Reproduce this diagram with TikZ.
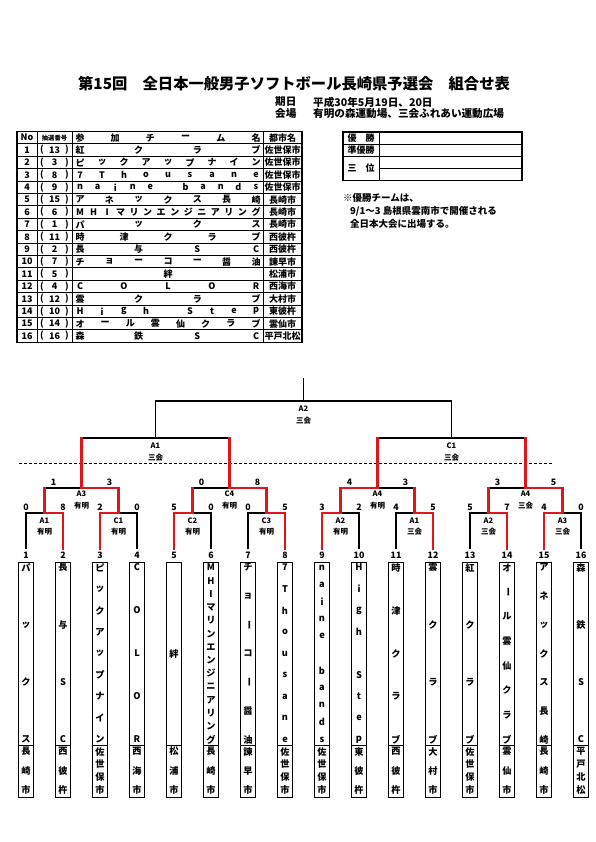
\documentclass[tikz,border=0pt]{standalone}
\usepackage{fontspec}
\usepackage{graphicx}
\setmainfont{Noto Sans CJK JP}
\definecolor{winred}{RGB}{222,22,28}
\newcommand\vb{\rotatebox[origin=c]{-90}{ー}}
\tikzset{
  blk/.style={line width=1.1pt, black},
  win/.style={line width=2.8pt, winred, line cap=rect},
  tline/.style={line width=0.9pt, black},
  touter/.style={line width=1.5pt, black},
  tt/.style={font=\fontsize{9}{9}\selectfont\bfseries, inner sep=0pt},
  lbl/.style={font=\fontsize{7.5}{8}\selectfont\bfseries, inner sep=0pt},
  scr/.style={font=\fontsize{8.8}{9}\selectfont\bfseries, inner sep=0pt},
  vch/.style={font=\fontsize{9.2}{9}\selectfont\bfseries, inner sep=0pt},
  tbox/.style={draw, line width=1.1pt, minimum width=14.5pt, inner sep=0pt, anchor=north},
  note/.style={font=\fontsize{9.5}{10}\selectfont\bfseries, inner sep=0pt, anchor=west},
  dt/.style={font=\fontsize{10.6}{11}\selectfont\bfseries, inner sep=0pt, anchor=west},
}
% table row: #1 row no, #2 draw no, #3 chars, #4 city
\newcommand\trow[4]{%
  \pgfmathsetmacro\ry{137.7+12.4*#1}
  \node[tt] (no#1) at (27,\ry) {#1};
  \node[tt] (lp#1) at (42,\ry) {(};
  \node[tt] (dn#1) at (54.5,\ry) {#2};
  \node[tt] (rp#1) at (67,\ry) {)};
  \foreach \ch [count=\k] in {#3} {\xdef\cnt{\k}}
  \foreach \ch [count=\k] in {#3} {%
    \ifnum\cnt=1 \def\xx{168}\else\pgfmathsetmacro\xx{80+(\k-1)*176/(\cnt-1)}\fi
    \node[tt] (tn#1-\k) at (\xx,\ry) {\ch};
  }
  \node[tt] (ct#1) at (282.5,\ry) {#4};
}
% team box: #1 index, #2 chars, #3 city chars
\newcommand\team[3]{%
  \pgfmathsetmacro\tx{26+37*(#1-1)}
  \node[scr] (num#1) at (\tx,555) {#1};
  \node[tbox, minimum height=183pt] (tb#1) at (\tx,562) {};
  \node[tbox, minimum height=52pt] (cb#1) at (\tx,745) {};
  \foreach \ch [count=\k] in {#2} {\xdef\cnt{\k}}
  \foreach \ch [count=\k] in {#2} {%
    \ifnum\cnt=1 \def\yy{653.5}\else\pgfmathsetmacro\yy{567.5+(\k-1)*172/(\cnt-1)}\fi
    \node[vch] (tc#1-\k) at (\tx,\yy) {\ch};
  }
  \foreach \ch [count=\k] in {#3} {\xdef\cnt{\k}}
  \foreach \ch [count=\k] in {#3} {%
    \pgfmathsetmacro\yy{751.5+(\k-1)*38.5/(\cnt-1)}
    \node[vch] (cc#1-\k) at (\tx,\yy) {\ch};
  }
}
\begin{document}
\begin{tikzpicture}[x=1pt,y=-1pt]
\useasboundingbox[fill=white] (0,0) rectangle (595,842);

% ---------- title ----------
\node[font=\fontsize{15.3}{16}\selectfont\bfseries, inner sep=0pt] (title) at (294,84) {第15回　全日本一般男子ソフトボール長崎県予選会　組合せ表};
\node[dt] (d1) at (275,102) {期日};
\node[dt] (d1v) at (313,102) {平成30年5月19日、20日};
\node[dt] (d2) at (275,113.5) {会場};
\node[dt] (d2v) at (313,113.5) {有明の森運動場、三会ふれあい運動広場};

% ---------- team table ----------
\foreach \r in {1,...,16} {\draw[tline] (17,{131.5+12.4*\r}) -- (302,{131.5+12.4*\r});}
\foreach \cx in {37,72,263} {\draw[tline] (\cx,131.5) -- (\cx,342.3);}
\draw[touter] (17,131.5) rectangle (302,342.3);
\node[tt] (hno) at (27,137.7) {No};
\node[font=\fontsize{6.3}{7}\selectfont\bfseries, inner sep=0pt] (hdn) at (54.5,137.7) {抽選番号};
\foreach \ch [count=\k] in {参,加,チ,ー,ム,名} {
  \pgfmathsetmacro\xx{80+(\k-1)*176/5}
  \node[tt] (hn\k) at (\xx,137.7) {\ch};
}
\node[tt] (hct) at (282.5,137.7) {都市名};
\trow{1}{13}{紅,ク,ラ,ブ}{佐世保市}
\trow{2}{3}{ピ,ッ,ク,ア,ッ,プ,ナ,イ,ン}{佐世保市}
\trow{3}{8}{7,T,h,o,u,s,a,n,e}{佐世保市}
\trow{4}{9}{n,a,i,n,e,{},b,a,n,d,s}{佐世保市}
\trow{5}{15}{ア,ネ,ッ,ク,ス,長,崎}{長崎市}
\trow{6}{6}{M,H,I,マ,リ,ン,エ,ン,ジ,ニ,ア,リ,ン,グ}{長崎市}
\trow{7}{1}{パ,ッ,ク,ス}{長崎市}
\trow{8}{11}{時,津,ク,ラ,ブ}{西彼杵}
\trow{9}{2}{長,与,S,C}{西彼杵}
\trow{10}{7}{チ,ョ,ー,コ,ー,醤,油}{諫早市}
\trow{11}{5}{絆}{松浦市}
\trow{12}{4}{C,O,L,O,R}{西海市}
\trow{13}{12}{雲,ク,ラ,ブ}{大村市}
\trow{14}{10}{H,i,g,h,{},S,t,e,p}{東彼杵}
\trow{15}{14}{オ,ー,ル,雲,仙,ク,ラ,ブ}{雲仙市}
\trow{16}{16}{森,鉄,S,C}{平戸北松}

% ---------- result box ----------
\draw[tline] (343,144.5) -- (522,144.5);
\draw[tline] (343,156.5) -- (522,156.5);
\draw[tline] (379,168.5) -- (522,168.5);
\draw[tline] (379,132) -- (379,180.5);
\draw[touter] (343,132) rectangle (522,180.5);
\node[tt] (r1) at (361,138.3) {優　勝};
\node[tt] (r2) at (361,150.5) {準優勝};
\node[tt] (r3) at (361,168.5) {三　位};
\node[note] (n1) at (343,198) {※優勝チームは、};
\node[note] (n2) at (350,211) {9/1～3 島根県雲南市で開催される};
\node[note] (n3) at (350,224) {全日本大会に出場する。};

% ---------- bracket coordinates ----------
\foreach \i in {1,...,16} {\pgfmathsetmacro\lx{26+37*(\i-1)} \coordinate (L\i) at (\lx,549);}
\foreach \k in {1,...,8} {\pgfmathsetmacro\mx{44.5+74*(\k-1)} \coordinate (M1-\k) at (\mx,513);}
\foreach \k in {1,...,4} {\pgfmathsetmacro\mx{81.5+148*(\k-1)} \coordinate (M2-\k) at (\mx,488);}
\foreach \k in {1,2} {\pgfmathsetmacro\mx{155.5+296*(\k-1)} \coordinate (M3-\k) at (\mx,438);}
\coordinate (M4) at (303.5,401);
\coordinate (TOP) at (303.5,378);
\coordinate (DL) at (19,463);
\coordinate (DR) at (552,463);

% black lines
\foreach \k [evaluate=\k as \a using int(2*\k-1), evaluate=\k as \b using int(2*\k)] in {1,...,8}
  {\draw[blk] (L\a) |- (M1-\k) -| (L\b);}
\foreach \k [evaluate=\k as \a using int(2*\k-1), evaluate=\k as \b using int(2*\k)] in {1,...,4}
  {\draw[blk] (M1-\a) |- (M2-\k) -| (M1-\b);}
\foreach \k [evaluate=\k as \a using int(2*\k-1), evaluate=\k as \b using int(2*\k)] in {1,2}
  {\draw[blk] (M2-\a) |- (M3-\k) -| (M2-\b);}
\draw[blk] (M3-1) |- (M4) -| (M3-2);
\draw[blk] (M4) -- (TOP);
\draw[line width=0.8pt, dash pattern=on 3pt off 2pt] (DL) -- (DR);

% red winning lines
\foreach \w/\k in {2/1,3/2,5/3,8/4,9/5,12/6,14/7,15/8} {\draw[win] (L\w) |- (M1-\k);}
\foreach \k [evaluate=\k as \p using int((\k+1)/2)] in {1,...,8} {\draw[win] (M1-\k) -- (M1-\k |- M2-\p);}
\foreach \w/\k in {2/1,4/2,5/3,8/4} {\draw[win] (M1-\w) |- (M2-\k);}
\foreach \k [evaluate=\k as \p using int((\k+1)/2)] in {1,...,4} {\draw[win] (M2-\k) -- (M2-\k |- M3-\p);}

% scores
\foreach \k/\sa/\sb in {1/0/8,2/2/0,3/5/0,4/0/5,5/3/2,6/4/5,7/5/7,8/4/0} {
  \pgfmathsetmacro\xa{26+74*(\k-1)} \pgfmathsetmacro\xb{\xa+37}
  \node[scr] (s1a-\k) at (\xa,507) {\sa};
  \node[scr] (s1b-\k) at (\xb,507) {\sb};
}
\foreach \k/\sa/\sb in {1/1/3,2/0/8,3/4/3,4/3/5} {
  \pgfmathsetmacro\xa{53.5+148*(\k-1)} \pgfmathsetmacro\xb{\xa+56}
  \node[scr] (s2a-\k) at (\xa,482) {\sa};
  \node[scr] (s2b-\k) at (\xb,482) {\sb};
}

% match labels
\foreach \k/\nm/\vn in {1/A1/有明,2/C1/有明,3/C2/有明,4/C3/有明,5/A2/有明,6/A1/三会,7/A2/三会,8/A3/三会} {
  \pgfmathsetmacro\mx{44.5+74*(\k-1)}
  \node[lbl] (g1-\k) at (\mx,520.5) {\nm};
  \node[lbl] (v1-\k) at (\mx,532) {\vn};
}
\foreach \k/\nm/\vn in {1/A3/有明,2/C4/有明,3/A4/有明,4/A4/三会} {
  \pgfmathsetmacro\mx{81.5+148*(\k-1)}
  \node[lbl] (g2-\k) at (\mx,494) {\nm};
  \node[lbl] (v2-\k) at (\mx,505.5) {\vn};
}
\foreach \k/\nm/\vn in {1/A1/三会,2/C1/三会} {
  \pgfmathsetmacro\mx{155.5+296*(\k-1)}
  \node[lbl] (g3-\k) at (\mx,446) {\nm};
  \node[lbl] (v3-\k) at (\mx,458) {\vn};
}
\node[lbl] (g4) at (303.5,409) {A2};
\node[lbl] (v4) at (303.5,421) {三会};

% ---------- team boxes ----------
\team{1}{パ,ッ,ク,ス}{長,崎,市}
\team{2}{長,与,S,C}{西,彼,杵}
\team{3}{ピ,ッ,ク,ア,ッ,プ,ナ,イ,ン}{佐,世,保,市}
\team{4}{C,O,L,O,R}{西,海,市}
\team{5}{絆}{松,浦,市}
\team{6}{M,H,I,マ,リ,ン,エ,ン,ジ,ニ,ア,リ,ン,グ}{長,崎,市}
\team{7}{チ,ョ,\vb,コ,\vb,醤,油}{諫,早,市}
\team{8}{7,T,h,o,u,s,a,n,e}{佐,世,保,市}
\team{9}{n,a,i,n,e,{},b,a,n,d,s}{佐,世,保,市}
\team{10}{H,i,g,h,{},S,t,e,p}{東,彼,杵}
\team{11}{時,津,ク,ラ,ブ}{西,彼,杵}
\team{12}{雲,ク,ラ,ブ}{大,村,市}
\team{13}{紅,ク,ラ,ブ}{佐,世,保,市}
\team{14}{オ,\vb,ル,雲,仙,ク,ラ,ブ}{雲,仙,市}
\team{15}{ア,ネ,ッ,ク,ス,長,崎}{長,崎,市}
\team{16}{森,鉄,S,C}{平,戸,北,松}
\end{tikzpicture}
\end{document}
